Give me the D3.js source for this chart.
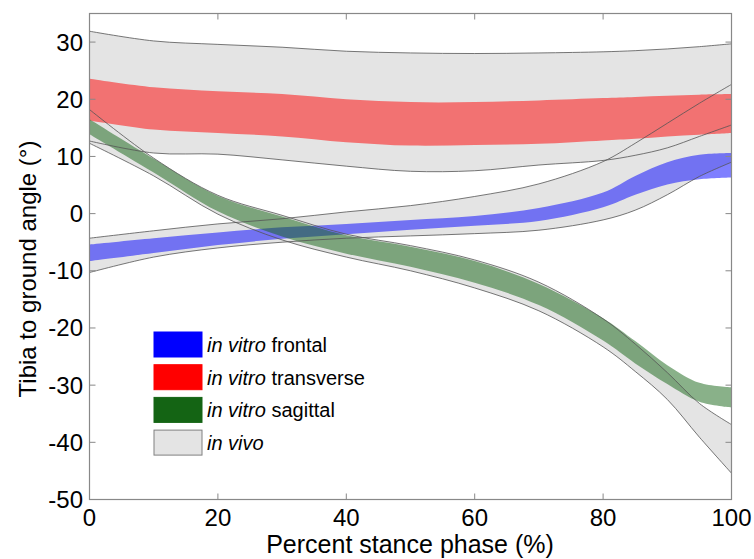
<!DOCTYPE html>
<html>
<head>
<meta charset="utf-8">
<script src="https://cdn.jsdelivr.net/npm/d3@7"></script>
<style>
  body { margin: 0; background: #fff; }
  text { font-family: "Liberation Sans", Arial, sans-serif; fill: #000; }
</style>
</head>
<body>
<div id="chart"></div>
<script>
// percent of stance phase where the band edges were read
var pct = [0, 10, 20, 30, 40, 50, 60, 70, 80, 85, 90, 95, 100];

// in vivo bands (grey)
var transVivoHi = [31.9, 30.2, 29.6, 29.1, 28.4, 28.1, 28.0, 28.1, 28.3, 28.5, 28.8, 29.2, 29.7];
var transVivoLo = [12.7, 10.6, 10.4, 9.4, 8.3, 7.4, 7.5, 8.5, 9.3, 10.2, 11.5, 13.5, 15.5];
var frontVivoHi = [-4.3, -3.0, -1.8, -0.9, 0.3, 1.4, 3.0, 5.2, 9.1, 12.3, 15.8, 19.3, 22.6];
var frontVivoLo = [-10.3, -7.6, -6.0, -5.0, -4.3, -3.9, -3.5, -2.9, -1.1, 0.6, 3.3, 6.5, 9.0];
var sagVivoHi = [18.2, 9.7, 3.2, -0.3, -3.6, -5.6, -8.1, -12.0, -18.4, -22.8, -27.8, -33.2, -36.9];
var sagVivoLo = [12.3, 6.6, -0.1, -4.6, -7.6, -10.0, -13.0, -17.0, -23.3, -27.6, -32.5, -39.1, -45.4];

// in vitro bands
var frontVitroHi = [-5.4, -4.3, -3.3, -2.4, -1.8, -1.1, -0.4, 1.0, 3.7, 6.6, 9.0, 10.3, 10.6];
var frontVitroLo = [-8.3, -6.9, -5.5, -4.4, -3.6, -2.8, -2.1, -1.3, 1.1, 3.3, 5.1, 6.0, 6.3];
var transVitroHi = [23.6, 22.1, 21.4, 20.9, 20.0, 19.5, 19.5, 19.8, 20.2, 20.4, 20.6, 20.8, 20.9];
var transVitroLo = [16.3, 14.7, 14.1, 13.5, 12.5, 11.9, 12.0, 12.2, 12.8, 13.1, 13.5, 13.8, 14.1];
var sagVitroHi = [16.5, 9.6, 3.1, -0.5, -3.8, -5.8, -8.3, -12.3, -18.3, -22.3, -26.5, -29.6, -30.4];
var sagVitroLo = [13.9, 7.2, 0.4, -4.0, -7.0, -9.3, -12.1, -16.0, -22.2, -26.2, -29.8, -32.9, -33.9];

var xTicks = [0, 20, 40, 60, 80, 100];
var yTicks = [-50, -40, -30, -20, -10, 0, 10, 20, 30];

var legendNames = ["frontal", "transverse", "sagittal", ""];
var legendColors = ["#0000ff", "#ff0000", "#146414", "#e4e4e4"];

var width = 754,
    height = 559,
    plotLeft = 89.5,
    plotRight = 731.5,
    plotTop = 13.5,
    plotBottom = 499.5,
    tickLen = 6;

var svg = d3.select('#chart')
    .append('svg')
    .attr('width', width)
    .attr('height', height);

var x = d3.scaleLinear().domain([0, 100]).range([plotLeft, plotRight]);
var y = d3.scaleLinear().domain([-50, 35]).range([plotBottom, plotTop]);

svg.append('clipPath')
    .attr('id', 'plot')
    .append('rect')
    .attr('x', plotLeft)
    .attr('y', plotTop)
    .attr('width', plotRight - plotLeft)
    .attr('height', plotBottom - plotTop);

function band(hi, lo) {
    return pct.map(function (p, i) { return {x: p, hi: hi[i], lo: lo[i]}; });
}

var curve = d3.curveCatmullRom.alpha(0.5);

var area = d3.area()
    .curve(curve)
    .x(function (d) { return x(d.x); })
    .y0(function (d) { return y(d.lo); })
    .y1(function (d) { return y(d.hi); });

var edgeHi = d3.line()
    .curve(curve)
    .x(function (d) { return x(d.x); })
    .y(function (d) { return y(d.hi); });

var edgeLo = d3.line()
    .curve(curve)
    .x(function (d) { return x(d.x); })
    .y(function (d) { return y(d.lo); });

var vivo = [
    band(transVivoHi, transVivoLo),
    band(frontVivoHi, frontVivoLo),
    band(sagVivoHi, sagVivoLo)
];
var vitro = [
    {data: band(frontVitroHi, frontVitroLo), color: legendColors[0]},
    {data: band(transVitroHi, transVitroLo), color: legendColors[1]},
    {data: band(sagVitroHi, sagVitroLo), color: legendColors[2]}
];

var plot = svg.append('g').attr('clip-path', 'url(#plot)');

plot.selectAll('path.vivo')
    .data(vivo)
    .enter()
    .append('path')
    .attr('class', 'vivo')
    .attr('d', area)
    .attr('fill', '#e4e4e4');

plot.selectAll('path.vitro')
    .data(vitro)
    .enter()
    .append('path')
    .attr('class', 'vitro')
    .attr('d', function (d) { return area(d.data); })
    .attr('fill', function (d) { return d.color; })
    .attr('fill-opacity', 0.5);

// grey outlines of the in vivo bands sit on top
vivo.forEach(function (b) {
    [edgeHi, edgeLo].forEach(function (fn) {
        plot.append('path')
            .attr('d', fn(b))
            .attr('fill', 'none')
            .attr('stroke', '#555')
            .attr('stroke-opacity', 0.8)
            .attr('stroke-width', 1);
    });
});

// box and ticks
var axisColor = '#888';
svg.append('rect')
    .attr('x', plotLeft)
    .attr('y', plotTop)
    .attr('width', plotRight - plotLeft)
    .attr('height', plotBottom - plotTop)
    .attr('fill', 'none')
    .attr('stroke', axisColor)
    .attr('stroke-width', 1.2);

var ticks = svg.append('g').attr('stroke', axisColor).attr('stroke-width', 1);
xTicks.forEach(function (t) {
    ticks.append('line').attr('x1', x(t)).attr('x2', x(t)).attr('y1', plotBottom).attr('y2', plotBottom - tickLen);
    ticks.append('line').attr('x1', x(t)).attr('x2', x(t)).attr('y1', plotTop).attr('y2', plotTop + tickLen);
});
yTicks.forEach(function (t) {
    ticks.append('line').attr('x1', plotLeft).attr('x2', plotLeft + tickLen).attr('y1', y(t)).attr('y2', y(t));
    ticks.append('line').attr('x1', plotRight).attr('x2', plotRight - tickLen).attr('y1', y(t)).attr('y2', y(t));
});

svg.append('g')
    .selectAll('text')
    .data(xTicks)
    .enter()
    .append('text')
    .attr('x', function (d) { return x(d); })
    .attr('y', 526)
    .attr('text-anchor', 'middle')
    .attr('font-size', 24)
    .text(function (d) { return d; });

svg.append('g')
    .selectAll('text')
    .data(yTicks)
    .enter()
    .append('text')
    .attr('x', 83)
    .attr('y', function (d) { return y(d) + 8.5; })
    .attr('text-anchor', 'end')
    .attr('font-size', 24)
    .text(function (d) { return d; });

svg.append('text')
    .attr('x', 410)
    .attr('y', 553)
    .attr('text-anchor', 'middle')
    .attr('font-size', 25)
    .text('Percent stance phase (%)');

svg.append('text')
    .attr('transform', 'translate(36,269) rotate(-90)')
    .attr('text-anchor', 'middle')
    .attr('font-size', 24)
    .text('Tibia to ground angle (\u00b0)');

// legend
var legend = svg.append('g')
    .selectAll('g')
    .data(legendNames)
    .enter()
    .append('g')
    .attr('transform', function (d, i) { return 'translate(154,' + (332 + i * 32.7) + ')'; });

legend.append('rect')
    .attr('width', 48)
    .attr('height', 25)
    .attr('fill', function (d, i) { return legendColors[i]; })
    .attr('stroke', function (d, i) { return i === 3 ? '#808080' : legendColors[i]; })
    .attr('stroke-width', 1);

var lt = legend.append('text')
    .attr('x', 53)
    .attr('y', 20)
    .attr('font-size', 20);
lt.append('tspan')
    .attr('font-style', 'italic')
    .text(function (d, i) { return i === 3 ? 'in vivo' : 'in vitro'; });
lt.append('tspan')
    .text(function (d) { return d ? ' ' + d : ''; });
</script>
</body>
</html>
